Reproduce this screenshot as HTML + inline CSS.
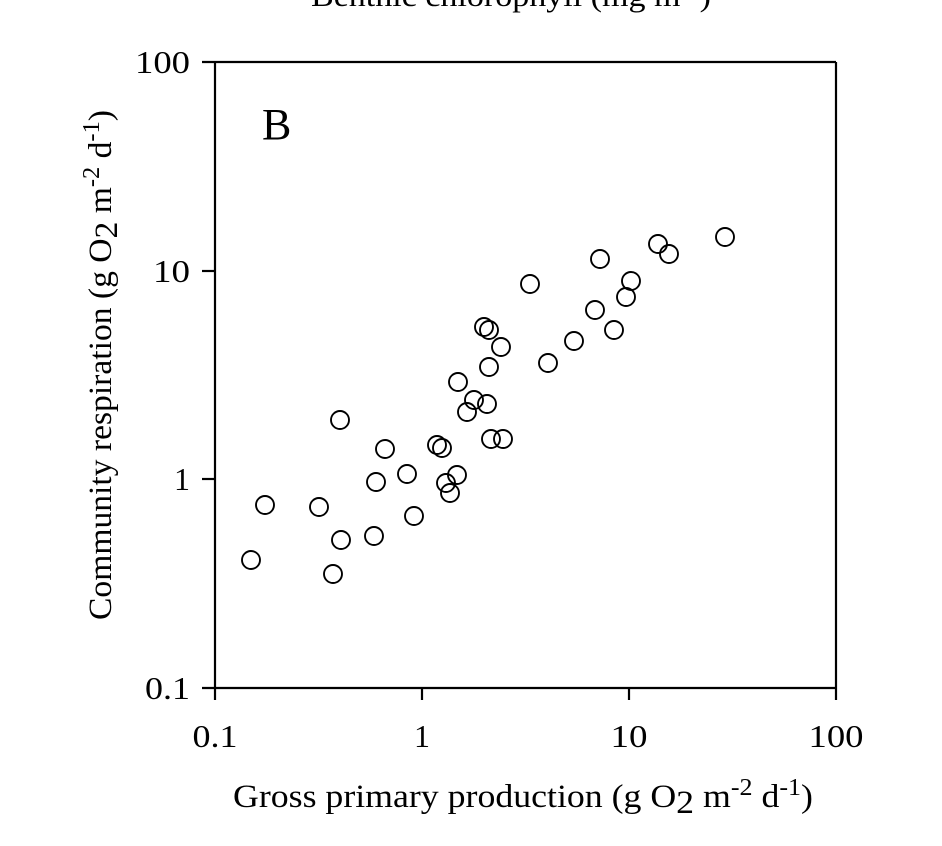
<!DOCTYPE html>
<html><head><meta charset="utf-8"><style>
html,body{margin:0;padding:0;background:#fff;}
svg{display:block;}
text{font-family:"Liberation Serif","Times New Roman",serif;fill:#000;}
</style></head><body>
<svg width="942" height="846" viewBox="0 0 942 846" xmlns="http://www.w3.org/2000/svg">
<text x="311" y="6" style="font-size:31px" textLength="400" lengthAdjust="spacingAndGlyphs">Benthic chlorophyll (mg m<tspan dy="-10" style="font-size:21px">-2</tspan><tspan dy="10">)</tspan></text>
<g stroke="#000" stroke-width="2.2" fill="none">
<line x1="215" y1="62" x2="215" y2="688"/>
<line x1="202" y1="62" x2="836" y2="62"/>
<line x1="836" y1="62" x2="836" y2="700"/>
<line x1="202" y1="688" x2="836" y2="688"/>
<line x1="202" y1="271" x2="215" y2="271"/>
<line x1="202" y1="479" x2="215" y2="479"/>
<line x1="215" y1="688" x2="215" y2="700"/>
<line x1="422" y1="688" x2="422" y2="700"/>
<line x1="629" y1="688" x2="629" y2="700"/>
</g>
<g style="font-size:32px" text-anchor="end">
<text x="190" y="73" textLength="55" lengthAdjust="spacingAndGlyphs">100</text>
<text x="190" y="282" textLength="37" lengthAdjust="spacingAndGlyphs">10</text>
<text x="190" y="490">1</text>
<text x="190" y="699" textLength="45" lengthAdjust="spacingAndGlyphs">0.1</text>
</g>
<g style="font-size:32px" text-anchor="middle">
<text x="215" y="747" textLength="45" lengthAdjust="spacingAndGlyphs">0.1</text>
<text x="422" y="747">1</text>
<text x="629" y="747" textLength="37" lengthAdjust="spacingAndGlyphs">10</text>
<text x="836" y="747" textLength="55" lengthAdjust="spacingAndGlyphs">100</text>
</g>
<text x="262" y="139" style="font-size:44px">B</text>
<text x="233" y="807" style="font-size:33px" textLength="580" lengthAdjust="spacingAndGlyphs">Gross primary production (g O<tspan dy="6">2</tspan><tspan dy="-6"> m</tspan><tspan dy="-12" style="font-size:24px">-2</tspan><tspan dy="12"> d</tspan><tspan dy="-12" style="font-size:24px">-1</tspan><tspan dy="12">)</tspan></text>
<text transform="translate(111,620) rotate(-90)" style="font-size:33px" textLength="510" lengthAdjust="spacingAndGlyphs">Community respiration (g O<tspan dy="6">2</tspan><tspan dy="-6"> m</tspan><tspan dy="-12" style="font-size:24px">-2</tspan><tspan dy="12"> d</tspan><tspan dy="-12" style="font-size:24px">-1</tspan><tspan dy="12">)</tspan></text>
<g stroke="#000" stroke-width="1.9" fill="none">
<circle cx="251" cy="560" r="9"/><circle cx="265" cy="505" r="9"/><circle cx="319" cy="507" r="9"/>
<circle cx="341" cy="540" r="9"/><circle cx="333" cy="574" r="9"/><circle cx="340" cy="420" r="9"/>
<circle cx="385" cy="449" r="9"/><circle cx="376" cy="482" r="9"/><circle cx="407" cy="474" r="9"/>
<circle cx="414" cy="516" r="9"/><circle cx="374" cy="536" r="9"/><circle cx="437" cy="445" r="9"/>
<circle cx="442" cy="448" r="9"/><circle cx="446" cy="483" r="9"/><circle cx="457" cy="475" r="9"/>
<circle cx="450" cy="493" r="9"/><circle cx="458" cy="382" r="9"/><circle cx="474" cy="400" r="9"/>
<circle cx="467" cy="412" r="9"/><circle cx="487" cy="404" r="9"/><circle cx="484" cy="327" r="9"/>
<circle cx="489" cy="330" r="9"/><circle cx="501" cy="347" r="9"/><circle cx="489" cy="367" r="9"/>
<circle cx="491" cy="439" r="9"/><circle cx="503" cy="439" r="9"/>
<circle cx="530" cy="284" r="9"/><circle cx="600" cy="259" r="9"/><circle cx="548" cy="363" r="9"/>
<circle cx="574" cy="341" r="9"/><circle cx="595" cy="310" r="9"/><circle cx="614" cy="330" r="9"/>
<circle cx="626" cy="297" r="9"/><circle cx="631" cy="281" r="9"/><circle cx="658" cy="244" r="9"/>
<circle cx="669" cy="254" r="9"/><circle cx="725" cy="237" r="9"/>
</g>
</svg>
</body></html>
